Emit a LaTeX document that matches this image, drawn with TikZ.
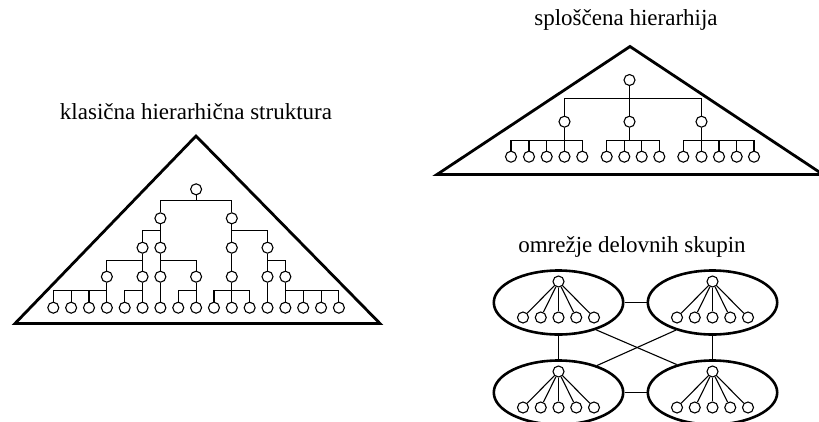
\documentclass[tikz,border=0pt]{standalone}
\usepackage{fontspec}
\setmainfont{Liberation Serif}
\usetikzlibrary{shapes.geometric}
\begin{document}
\begin{tikzpicture}[x=1pt,y=-1pt,
  nd/.style={circle,draw,fill=white,inner sep=0pt,minimum size=11pt,line width=1.1pt},
  ln/.style={line width=1.1pt},
  tri/.style={line width=2.8pt,line join=miter},
  grp/.style={ellipse,draw,line width=2.6pt,minimum width=129.4pt,minimum height=64pt,inner sep=0pt},
  lbl/.style={anchor=base,inner sep=0pt,font=\fontsize{23}{27}\selectfont}]
\useasboundingbox (0,0) rectangle (819,421);
\clip (0,0) rectangle (819,421);

% ---------- labels ----------
\node[lbl] (t1) at (196,119) {klasična hierarhična struktura};
\node[lbl] (t2) at (626,25) {sploščena hierarhija};
\node[lbl] (t3) at (632,252.7) {omrežje delovnih skupin};

% ---------- left: classic hierarchy ----------
\draw[tri] (196,136) -- (380,323.5) -- (15,323.5) -- cycle;
\coordinate (b1) at (0,200.5);
\coordinate (b2) at (0,230.5);
\coordinate (b3) at (0,260.5);
\coordinate (b4) at (0,290.5);
\node[nd] (R) at ({53.3+17.85*8},189.3) {};
\foreach \n/\i in {m/6,n/10}
  \node[nd] (L2\n) at ({53.3+17.85*\i},218.3) {};
\foreach \n/\i in {p/5,q/6,r/10,s/12}
  \node[nd] (L3\n) at ({53.3+17.85*\i},247.7) {};
\foreach \n/\i in {a/3,b/5,c/6,d/8,e/10,f/12,g/13}
  \node[nd] (L4\n) at ({53.3+17.85*\i},276.7) {};
\foreach \i in {0,...,16}
  \node[nd] (L\i) at ({53.3+17.85*\i},307.7) {};
\foreach \p/\c/\b in {R/L2m/b1, R/L2n/b1,
    L2m/L3p/b2, L2m/L3q/b2, L2n/L3r/b2, L2n/L3s/b2,
    L3p/L4a/b3, L3p/L4b/b3, L3q/L4c/b3, L3q/L4d/b3, L3r/L4e/b3, L3s/L4f/b3, L3s/L4g/b3,
    L4a/L0/b4, L4a/L1/b4, L4a/L2/b4, L4a/L3/b4,
    L4b/L4/b4, L4b/L5/b4, L4c/L6/b4, L4d/L7/b4, L4d/L8/b4,
    L4e/L9/b4, L4e/L10/b4, L4e/L11/b4, L4f/L12/b4,
    L4g/L13/b4, L4g/L14/b4, L4g/L15/b4, L4g/L16/b4}
  \draw[ln] (\p.south) -- (\p.south |- \b) -| (\c.north);

% ---------- top right: flat hierarchy ----------
\draw[tri] (630,46.5) -- (823,174.5) -- (437,174.5) -- cycle;
\coordinate (c1) at (0,98.5);
\coordinate (c2) at (0,140.5);
\node[nd] (T0) at (629.5,80) {};
\node[nd] (TA) at (564.5,121.7) {};
\node[nd] (TB) at (629.5,121.7) {};
\node[nd] (TC) at (701.5,121.7) {};
\foreach \k/\x in {1/511,2/529,3/546.7,4/564.5,5/582.3}
  \node[nd] (TA\k) at (\x,156.7) {};
\foreach \k/\x in {1/606.7,2/624.3,3/641.7,4/659.3}
  \node[nd] (TB\k) at (\x,156.7) {};
\foreach \k/\x in {1/683.3,2/701.5,3/719,4/736.7,5/754}
  \node[nd] (TC\k) at (\x,156.7) {};
\foreach \p/\c/\b in {T0/TA/c1, T0/TB/c1, T0/TC/c1,
    TA/TA1/c2, TA/TA2/c2, TA/TA3/c2, TA/TA4/c2, TA/TA5/c2,
    TB/TB1/c2, TB/TB2/c2, TB/TB3/c2, TB/TB4/c2,
    TC/TC1/c2, TC/TC2/c2, TC/TC3/c2, TC/TC4/c2, TC/TC5/c2}
  \draw[ln] (\p.south) -- (\p.south |- \b) -| (\c.north);

% ---------- bottom right: network of work groups ----------
\foreach \g/\cx/\cy in {NA/558.5/302.5, NB/712.5/302.5, NC/558.5/392.5, ND/712.5/392.5} {
  \node[grp] (\g) at (\cx,\cy) {};
  \node[nd] (\g r) at ({\cx},{\cy-21}) {};
  \foreach \k in {1,...,5} {
    \node[nd] (\g l\k) at ({\cx+17.75*(\k-3)},{\cy+15}) {};
    \draw[ln] (\g r) -- (\g l\k);
  }
}
\draw[ln] (NA.east) -- (NB.west);
\draw[ln] (NC.east) -- (ND.west);
\draw[ln] (NA.south) -- (NC.north);
\draw[ln] (NB.south) -- (ND.north);
\draw[ln] (NA.-36.6) -- (ND.142.2);
\draw[ln] (NB.-143.6) -- (NC.35.7);
\end{tikzpicture}
\end{document}
